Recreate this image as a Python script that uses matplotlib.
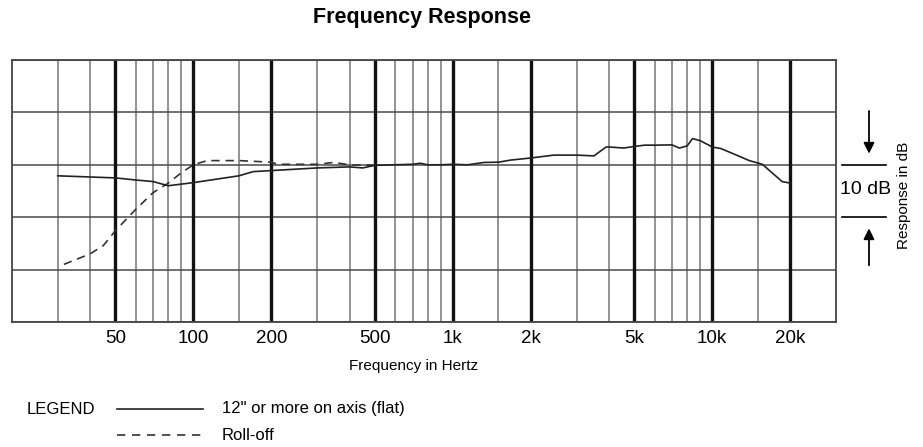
import matplotlib
matplotlib.use("Agg")
import matplotlib.pyplot as plt
from matplotlib.lines import Line2D
from matplotlib import transforms

plt.rcParams['font.family'] = ['Liberation Sans', 'DejaVu Sans']

# Data
flat_freq = [30, 50, 60, 70, 80, 100, 150, 170, 200, 300, 400, 450, 500, 700, 750, 800, 900, 1000,
             1140, 1320, 1500, 1670, 2000, 2450, 3000, 3500, 3900, 4000, 4560, 5000, 5500, 6000,
             7000, 7470, 8000, 8400, 9000, 10000, 10800, 12200, 13900, 15600, 16900, 18600, 20000]
flat_db = [-2.1, -2.5, -2.9, -3.2, -4.0, -3.4, -2.1, -1.3, -1.1, -0.6, -0.4, -0.6, -0.1, 0.1, 0.3, 0.0, 0.0, 0.1,
           0.0, 0.45, 0.5, 0.9, 1.3, 1.85, 1.85, 1.7, 3.4, 3.4, 3.2, 3.5, 3.75, 3.75,
           3.8, 3.2, 3.6, 5.0, 4.6, 3.4, 3.1, 2.0, 0.8, 0.1, -1.4, -3.2, -3.5]

rolloff_freq = [31.7, 40, 45, 50, 60, 70, 80, 90, 100, 113, 150, 200, 211, 300, 347, 400, 500]
rolloff_db = [-19.0, -17.0, -15.4, -12.6, -8.5, -5.3, -3.5, -1.5, 0.0, 0.8, 0.8, 0.5, 0.1, 0.1, 0.45, 0.0, -0.1]

major_ticks = [50, 100, 200, 500, 1000, 2000, 5000, 10000, 20000]
major_labels = ["50", "100", "200", "500", "1k", "2k", "5k", "10k", "20k"]
minor_ticks = [30, 40, 60, 70, 80, 90, 150, 300, 400, 600, 700, 800, 900,
               1500, 3000, 4000, 6000, 7000, 8000, 9000, 15000]
y_ticks = [-30, -20, -10, 0, 10, 20]

W, H = 923, 447
fig = plt.figure(figsize=(W / 100, H / 100), dpi=100)
ax = fig.add_axes([12 / W, 1 - 322 / H, (836 - 12) / W, (322 - 60) / H])
ax.set_xscale('log')
ax.set_xlim(20, 30000)
ax.set_ylim(-30, 20)

# grid
for f in minor_ticks:
    ax.axvline(f, color='#8a8a8a', lw=1.3, zorder=1)
for f in major_ticks:
    ax.axvline(f, color='#111111', lw=2.4, zorder=1.5)
for y in y_ticks:
    ax.axhline(y, color='#4a4a4a', lw=1.1, zorder=1.2)

ax.set_xticks(major_ticks)
ax.set_xticklabels(major_labels)
ax.set_xticks([], minor=True)
ax.set_yticks([])
ax.tick_params(axis='x', length=0, labelsize=13.5, pad=6)
for s in ax.spines.values():
    s.set_color('#444444')
    s.set_linewidth(1.3)

ax.plot(flat_freq, flat_db, color='#222222', lw=1.2, zorder=3)
ax.plot(rolloff_freq, rolloff_db, color='#333333', lw=1.2, ls=(0, (5, 3.5)), zorder=2.5)

fig.text(414 / W, 1 - 366 / H, "Frequency in Hertz", ha='center', va='center', fontsize=11)
fig.text(422 / W, 1 - 18 / H, "Frequency Response", ha='center', va='center',
         fontsize=15.5, fontweight='bold')

# right-side 10 dB annotation
tr = transforms.blended_transform_factory(fig.transFigure, ax.transData)
for y in [0, -10]:
    fig.add_artist(Line2D([842 / W, 886 / W], [y, y], transform=tr, color='black', lw=1.2))
fig.text(866 / W, 1 - 189 / H, "10 dB", ha='center', va='center', fontsize=14)
ax.annotate("", xy=(869 / W, 1.6), xytext=(869 / W, 10.8), xycoords=tr, textcoords=tr,
            arrowprops=dict(arrowstyle='-|>', mutation_scale=16, color='black', lw=1.3))
ax.annotate("", xy=(869 / W, -11.6), xytext=(869 / W, -19.7), xycoords=tr, textcoords=tr,
            arrowprops=dict(arrowstyle='-|>', mutation_scale=16, color='black', lw=1.3))
fig.text(904 / W, 1 - 195 / H, "Response in dB", ha='center', va='center',
         rotation=90, fontsize=11)

# legend
fig.text(27 / W, 1 - 409 / H, "LEGEND", ha='left', va='center', fontsize=12)
fig.add_artist(Line2D([117 / W, 203 / W], [1 - 409 / H, 1 - 409 / H], transform=fig.transFigure,
                      color='#222222', lw=1.2))
fig.text(222 / W, 1 - 409 / H, "12\" or more on axis (flat)", ha='left', va='center', fontsize=12)
fig.add_artist(Line2D([117 / W, 203 / W], [1 - 435 / H, 1 - 435 / H], transform=fig.transFigure,
                      color='#333333', lw=1.2, ls=(0, (5, 4))))
fig.text(222 / W, 1 - 435 / H, "Roll-off", ha='left', va='center', fontsize=12)

fig.savefig("out.png", dpi=100)
